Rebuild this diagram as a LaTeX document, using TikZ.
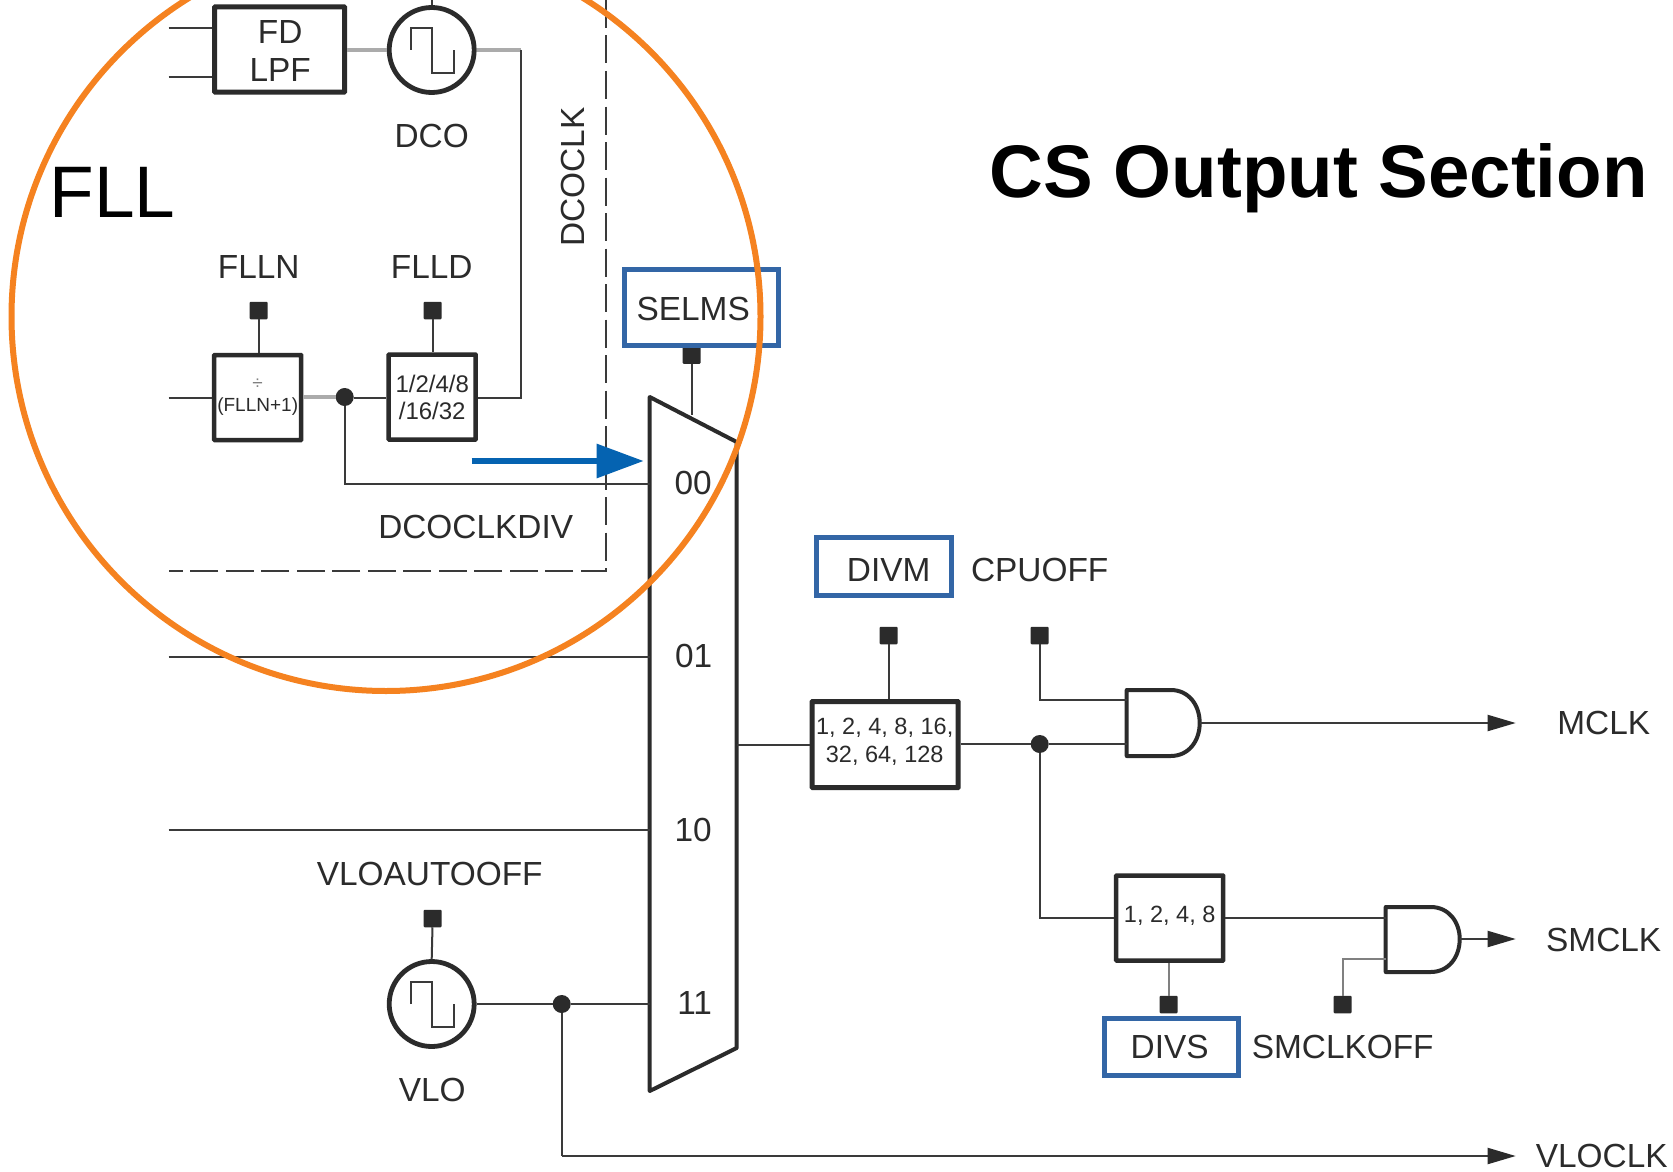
\documentclass[tikz,border=0pt]{standalone}
\usepackage{fontspec}
\setmainfont{Liberation Sans}
\usetikzlibrary{arrows.meta,calc}
\definecolor{ink}{HTML}{2B2B2B}
\definecolor{wirec}{HTML}{3A3A3A}
\definecolor{softw}{HTML}{ABABAB}
\definecolor{tibluebox}{HTML}{3366A6}
\definecolor{bluearrow}{HTML}{0563B1}
\definecolor{ringc}{HTML}{F58220}
\tikzset{
  x=1pt,y=-1pt,
  lbl/.style={inner sep=0pt,text=ink,font=\fontsize{33.4}{38}\selectfont,align=center},
  wire/.style={draw=wirec,line width=2pt},
  softwire/.style={draw=softw,line width=3.5pt},
  midwire/.style={draw=gray,line width=2.2pt},
  dashline/.style={draw=wirec,line width=2pt,dash pattern=on 28pt off 7.5pt},
  blockbox/.style={draw=ink,line width=4.5pt,rectangle,inner sep=0pt,align=center,text=ink,rounded corners=0.5pt},
  osc/.style={draw=ink,line width=4.8pt,circle,inner sep=0pt,minimum size=85pt},
  wavewire/.style={draw=wirec,line width=1.8pt},
  pin/.style={fill=ink,rectangle,rounded corners=1pt,inner sep=0pt,minimum width=18pt,minimum height=17.5pt,outer sep=0pt},
  junction/.style={fill=ink,circle,inner sep=0pt,minimum size=18pt,outer sep=0pt},
  bluebox/.style={draw=tibluebox,line width=5pt,rectangle,inner sep=0pt},
  gateline/.style={draw=ink,line width=4pt,line join=round},
  outarrow/.style={wire,-{Triangle[length=28pt,width=16pt,color=ink]}},
  boxtext/.style={inner sep=0pt,text=ink,align=center},
}
\newcommand{\sqwave}[1]{\draw[wavewire] ([shift={(-21,0)}]#1.center) -- ++(0,-22) -- ++(21,0) -- ++(0,45) -- ++(22,0) -- ++(0,-23);}
\begin{document}
\begin{tikzpicture}
\useasboundingbox (0,0) rectangle (1673,1172);
\clip (0,0) rectangle (1673,1172);
\fill[white] (0,0) rectangle (1673,1172);
\begin{scope}[xshift=-0.3pt]
% free ends and mux outline
\coordinate (inA) at (169,28);
\coordinate (inB) at (169,77);
\coordinate (inC) at (169,398);
\coordinate (inD) at (169,657);
\coordinate (inE) at (169,830);
\coordinate (dashTop) at (606,0);
\coordinate (dashCorner) at (606,571);
\coordinate (dashEnd) at (169,571);
\coordinate (muxTL) at (650,397);
\coordinate (muxTR) at (737,442);
\coordinate (muxBR) at (737,1048);
\coordinate (muxBL) at (650,1091);
\coordinate (rise) at (521,50);
\coordinate (fall) at (521,398);
\coordinate (divTap) at (345,484);
\coordinate (muxOut) at (737,745);
\coordinate (selEnd) at (692,415);
\coordinate (vloTap) at (562,1156);
\coordinate (vloEnd) at (1516,1156);
\coordinate (mclkEnd) at (1516,723);
\coordinate (smclkEnd) at (1516,939);
\coordinate (blueStart) at (472,461);
\coordinate (blueEnd) at (644,461);

% blocks
\node[blockbox,line width=5pt,minimum width=130pt,minimum height=85pt] (fd) at (280,49.5) {};
\node[boxtext,font=\fontsize{33.4}{38.4}\selectfont] (fdText) at (280.5,51) {FD\\LPF};
\node[osc] (dco) at (432,50) {};
\node[osc] (vlo) at (432,1004) {};
\node[blockbox,minimum width=87pt,minimum height=85pt,font=\fontsize{19}{22}\selectfont] (flln) at (258,397.5) {\textcolor{gray}{÷}\\(FLLN+1)};
\node[blockbox,minimum width=87pt,minimum height=85pt,font=\fontsize{24}{27}\selectfont] (flld) at (432.5,397) {1/2/4/8\\/16/32};
\node[blockbox,line width=5pt,minimum width=146pt,minimum height=86pt] (divmb) at (885.5,744.5) {};
\node[boxtext,font=\fontsize{23.5}{28}\selectfont] (divmText) at (885,741.5) {1, 2, 4, 8, 16,\\32, 64, 128};
\node[blockbox,minimum width=107pt,minimum height=85pt] (divsb) at (1170,918) {};
\node[boxtext,font=\fontsize{23.5}{28}\selectfont] (divsText) at (1170,915.5) {1, 2, 4, 8};
\sqwave{dco}
\sqwave{vlo}

% pins
\node[pin] (pinN) at (259,310.5) {};
\node[pin] (pinD) at (433,310.5) {};
\node[pin] (pinSel) at (692,355) {};
\node[pin] (pinM) at (889,635.5) {};
\node[pin] (pinC) at (1040,635.5) {};
\node[pin] (pinS) at (1169,1004.5) {};
\node[pin] (pinO) at (1343,1004.5) {};
\node[pin] (pinV) at (433,918.5) {};

% junctions
\node[junction] (j1) at (345,397) {};
\node[junction] (j2) at (1040,744) {};
\node[junction] (j3) at (562,1004) {};

% dashed frame
\draw[dashline] (dashTop) -- (dashCorner) -- (dashEnd);

% mux
\draw[gateline] (muxTL) -- (muxTR) -- (muxBR) -- (muxBL) -- cycle;

% gates
\coordinate (g1a) at (1127,690);
\coordinate (g1b) at (1127,756);
\coordinate (g1o) at (1200,723);
\draw[gateline] (g1a) -- (1171,690) .. controls (1189,690) and (1200,705) .. (g1o) .. controls (1200,741) and (1189,756) .. (1171,756) -- (g1b) -- cycle;
\coordinate (g2a) at (1386,907);
\coordinate (g2b) at (1386,972);
\coordinate (g2o) at (1460,939);
\draw[gateline] (g2a) -- (1431,907) .. controls (1449,907) and (1460,922) .. (g2o) .. controls (1460,957) and (1449,972) .. (1431,972) -- (g2b) -- cycle;

% connectors
\draw[wire] (inA) -- (inA -| fd.west);
\draw[wire] (inB) -- (inB -| fd.west);
\draw[softwire] (fd.east |- dco.west) -- (dco.west);
\draw[softwire] (dco.east) -- (rise);
\draw[wire] (dco.north) -- ++(0,-6);
\draw[wire] (rise) -- (fall) -- (fall -| flld.east);
\draw[wire] (inC) -- (inC -| flln.west);
\draw[softwire] (j1 -| flln.east) -- (j1.west);
\draw[wire] (j1.east |- fall) -- (fall -| flld.west);
\draw[wire] (pinN) -- (pinN |- flln.north);
\draw[wire] (pinD) -- (pinD |- flld.north);
\draw[wire] (j1) -- (divTap) -- (divTap -| muxTL);
\draw[wire] (inD) -- (inD -| muxTL);
\draw[wire] (inE) -- (inE -| muxTL);
\draw[wire] (pinSel) -- (selEnd);
\draw[wire] (pinV) -- (vlo.north);
\draw[wire] (vlo.east) -- (j3) -- (j3 -| muxTL);
\draw[wire] (j3) -- (vloTap);
\draw[outarrow] (vloTap) -- (vloEnd);
\draw[wire] (muxOut) -- (muxOut -| divmb.west);
\draw[wire] (pinM) -- (pinM |- divmb.north);
\draw[wire] (divmb.east |- j2) -- (j2) -- (j2 -| g1a);
\draw[wire] (pinC) -- (pinC |- 0,700) -- (1127,700);
\draw[outarrow] (g1o) -- (mclkEnd);
\draw[wire] (j2) -- (j2 |- divsb.west) -- (divsb.west);
\draw[wire] (divsb.east) -- (divsb.east -| g2a);
\draw[midwire] (pinS) -- (pinS |- divsb.south);
\draw[midwire] (pinO) -- (pinO |- 0,959) -- (1386,959);
\draw[outarrow] (g2o) -- (smclkEnd);

% labels
\node[lbl] (lDCO) at (432,136) {DCO};
\node[lbl,rotate=90] (lDCOCLK) at (573,177) {DCOCLK};
\node[lbl] (lFLLN) at (259,267) {FLLN};
\node[lbl] (lFLLD) at (432,267) {FLLD};
\node[lbl] (lDIV) at (476,527) {DCOCLKDIV};
\node[lbl] (l00) at (693.5,483) {00};
\node[lbl] (l01) at (694,656) {01};
\node[lbl] (l10) at (693.5,830) {10};
\node[lbl] (l11) at (695,1003) {11};
\node[lbl] (lVAO) at (430,874) {VLOAUTOOFF};
\node[lbl] (lVLO) at (432.5,1090) {VLO};
\node[lbl] (lCPU) at (1040,570) {CPUOFF};
\node[lbl] (lSOFF) at (1343,1047) {SMCLKOFF};
\node[lbl] (lMCLK) at (1604,723) {MCLK};
\node[lbl] (lSMCLK) at (1604,940) {SMCLK};
\node[lbl] (lVCLK) at (1602,1156) {VLOCLK};
\node[lbl] (lDIVM) at (889,570) {DIVM};
\node[lbl] (lSEL) at (693.5,309) {SELMS};
\node[lbl] (lDIVS) at (1170,1047) {DIVS};
\node[inner sep=0pt,font=\fontsize{73}{80}\selectfont,text=black] (lFLL) at (113,192) {FLL};
\node[inner sep=0pt,font=\fontsize{74.5}{84}\selectfont\bfseries,text=black] (title) at (1319,178) {CS Output Section};

% highlight boxes
\node[bluebox,minimum width=154pt,minimum height=76pt] (bSel) at (702,307.5) {};
\node[bluebox,minimum width=135pt,minimum height=58pt] (bDivm) at (884,566.5) {};
\node[bluebox,minimum width=134pt,minimum height=57pt] (bDivs) at (1172,1046.5) {};

% blue arrow
\draw[draw=bluearrow,line width=6pt,-{Triangle[length=47pt,width=33pt,color=bluearrow]}] (blueStart) -- (blueEnd);
\end{scope}

% FLL ring
\node[draw=ringc,line width=6pt,circle,inner sep=0pt,minimum size=749pt] (ring) at (386,316.5) {};
\end{tikzpicture}
\end{document}
